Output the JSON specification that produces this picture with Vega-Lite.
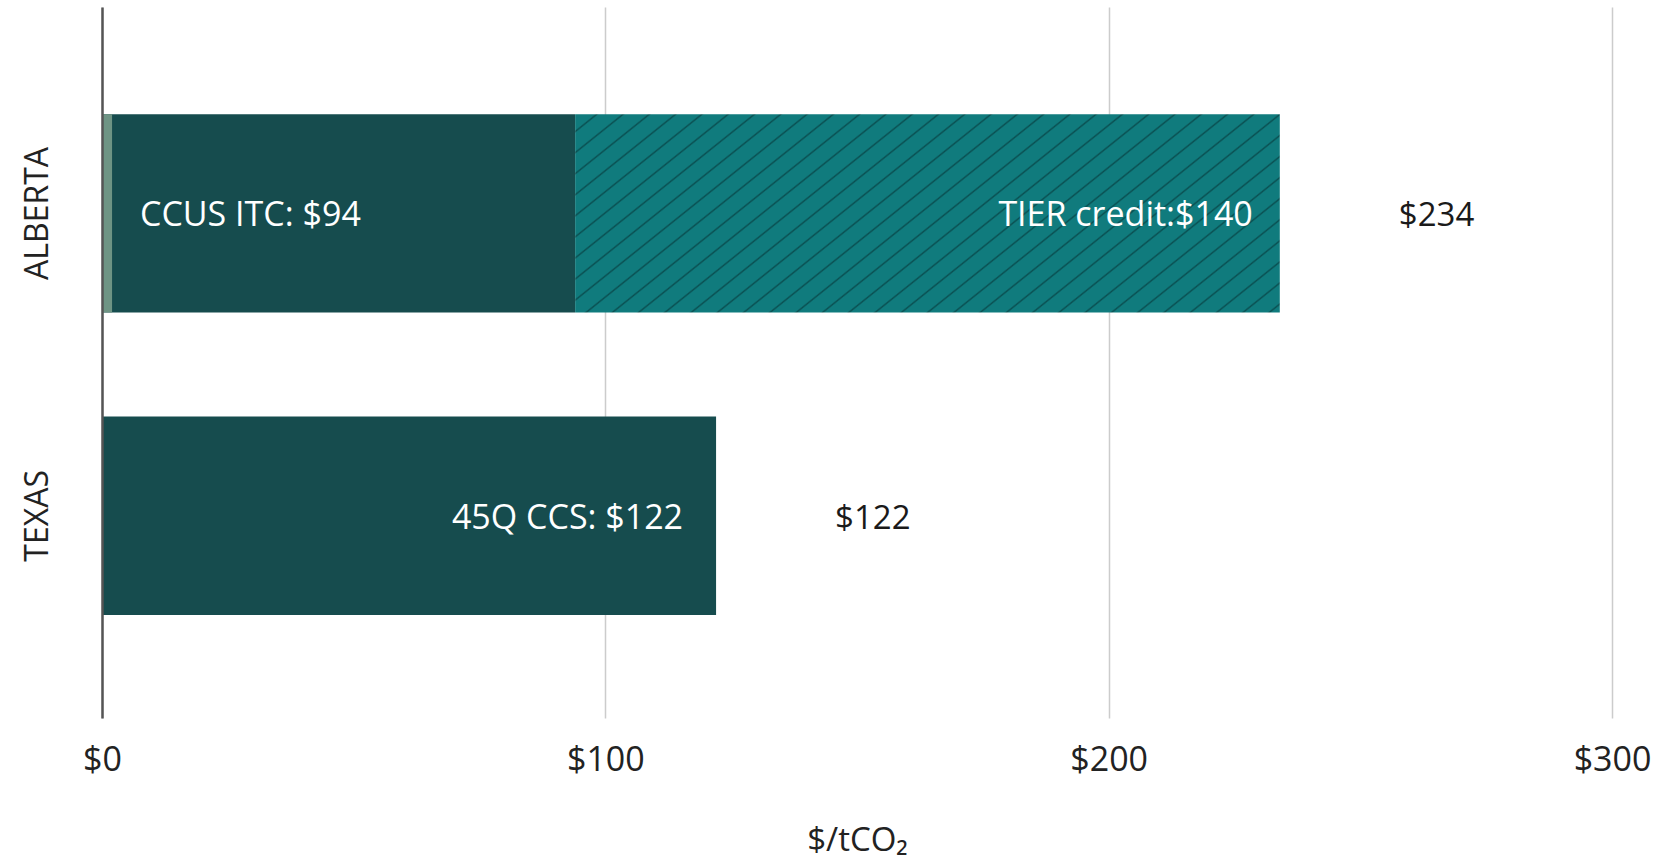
{
  "$schema": "https://vega.github.io/schema/vega-lite/v6.json",
  "width": 1510,
  "height": 711,
  "autosize": {"type": "none"},
  "padding": {"left": 102, "top": 7, "right": 43, "bottom": 144},
  "background": "white",
  "config": {"font": "Open Sans", "view": {"stroke": null}},
  "datasets": {
    "bars": [
      {"region": "ALBERTA", "segment": "CCUS ITC", "start": 0, "end": 94, "label": "CCUS ITC: $94"},
      {"region": "ALBERTA", "segment": "TIER credit", "start": 94, "end": 234, "label": "TIER credit:$140"},
      {"region": "ALBERTA", "segment": "Other", "start": 0, "end": 2, "label": ""},
      {"region": "TEXAS", "segment": "45Q CCS", "start": 0, "end": 122, "label": "45Q CCS: $122"}
    ],
    "totals": [
      {"region": "ALBERTA", "total": 234, "label": "$234"},
      {"region": "TEXAS", "total": 122, "label": "$122"}
    ]
  },
  "encoding": {
    "y": {
      "field": "region",
      "type": "nominal",
      "sort": ["ALBERTA", "TEXAS"],
      "scale": {"paddingInner": 0.344, "paddingOuter": 0.3476, "align": 0.51},
      "axis": {
        "title": null,
        "grid": false,
        "labelAngle": -90,
        "labelAlign": "center",
        "labelBaseline": "alphabetic",
        "labelPadding": 55,
        "ticks": false,
        "tickSize": 0,
        "domain": true,
        "domainColor": "#555555",
        "domainWidth": 2.5,
        "labelFontSize": 32,
        "labelColor": "#222222",
        "labelFont": "Open Sans",
        "zindex": 1
      }
    }
  },
  "layer": [
    {
      "data": {"name": "bars"},
      "transform": [{"filter": "datum.segment === 'CCUS ITC' || datum.segment === '45Q CCS'"}],
      "mark": {"type": "bar", "fill": "#164c4e"},
      "encoding": {
        "x": {
          "field": "start",
          "type": "quantitative",
          "scale": {"domain": [0, 300], "nice": false},
          "axis": {
            "title": "$/tCO₂",
            "values": [0, 100, 200, 300],
            "labelExpr": "'$' + datum.value",
            "labelFlush": false,
            "grid": true,
            "gridColor": "#cccccc",
            "gridWidth": 1.5,
            "domain": false,
            "ticks": false,
            "tickSize": 0,
            "labelPadding": 25,
            "labelFontSize": 34,
            "labelColor": "#222222",
            "labelFont": "Open Sans",
            "titleFont": "Open Sans",
            "titleFontSize": 33,
            "titleFontWeight": "normal",
            "titleColor": "#222222",
            "titlePadding": 47
          }
        },
        "x2": {"field": "end"}
      }
    },
    {
      "data": {"name": "bars"},
      "transform": [{"filter": "datum.segment === 'TIER credit'"}],
      "mark": {
        "type": "bar",
        "fill": {
          "gradient": "linear",
          "x1": 0, "y1": 0, "x2": 1.2028, "y2": 0.4223,
          "stops": [
            {"offset": 0.0204, "color": "#107b7d"}, {"offset": 0.0228, "color": "#0a4f51"}, {"offset": 0.0252, "color": "#107b7d"},
            {"offset": 0.0480, "color": "#107b7d"}, {"offset": 0.0504, "color": "#0a4f51"}, {"offset": 0.0528, "color": "#107b7d"},
            {"offset": 0.0756, "color": "#107b7d"}, {"offset": 0.0780, "color": "#0a4f51"}, {"offset": 0.0804, "color": "#107b7d"},
            {"offset": 0.1032, "color": "#107b7d"}, {"offset": 0.1056, "color": "#0a4f51"}, {"offset": 0.1080, "color": "#107b7d"},
            {"offset": 0.1308, "color": "#107b7d"}, {"offset": 0.1332, "color": "#0a4f51"}, {"offset": 0.1356, "color": "#107b7d"},
            {"offset": 0.1584, "color": "#107b7d"}, {"offset": 0.1608, "color": "#0a4f51"}, {"offset": 0.1632, "color": "#107b7d"},
            {"offset": 0.1860, "color": "#107b7d"}, {"offset": 0.1884, "color": "#0a4f51"}, {"offset": 0.1908, "color": "#107b7d"},
            {"offset": 0.2136, "color": "#107b7d"}, {"offset": 0.2160, "color": "#0a4f51"}, {"offset": 0.2184, "color": "#107b7d"},
            {"offset": 0.2412, "color": "#107b7d"}, {"offset": 0.2436, "color": "#0a4f51"}, {"offset": 0.2460, "color": "#107b7d"},
            {"offset": 0.2688, "color": "#107b7d"}, {"offset": 0.2712, "color": "#0a4f51"}, {"offset": 0.2736, "color": "#107b7d"},
            {"offset": 0.2964, "color": "#107b7d"}, {"offset": 0.2988, "color": "#0a4f51"}, {"offset": 0.3012, "color": "#107b7d"},
            {"offset": 0.3240, "color": "#107b7d"}, {"offset": 0.3264, "color": "#0a4f51"}, {"offset": 0.3288, "color": "#107b7d"},
            {"offset": 0.3516, "color": "#107b7d"}, {"offset": 0.3540, "color": "#0a4f51"}, {"offset": 0.3564, "color": "#107b7d"},
            {"offset": 0.3792, "color": "#107b7d"}, {"offset": 0.3816, "color": "#0a4f51"}, {"offset": 0.3840, "color": "#107b7d"},
            {"offset": 0.4068, "color": "#107b7d"}, {"offset": 0.4092, "color": "#0a4f51"}, {"offset": 0.4116, "color": "#107b7d"},
            {"offset": 0.4344, "color": "#107b7d"}, {"offset": 0.4368, "color": "#0a4f51"}, {"offset": 0.4392, "color": "#107b7d"},
            {"offset": 0.4620, "color": "#107b7d"}, {"offset": 0.4644, "color": "#0a4f51"}, {"offset": 0.4668, "color": "#107b7d"},
            {"offset": 0.4896, "color": "#107b7d"}, {"offset": 0.4920, "color": "#0a4f51"}, {"offset": 0.4944, "color": "#107b7d"},
            {"offset": 0.5172, "color": "#107b7d"}, {"offset": 0.5196, "color": "#0a4f51"}, {"offset": 0.5220, "color": "#107b7d"},
            {"offset": 0.5448, "color": "#107b7d"}, {"offset": 0.5472, "color": "#0a4f51"}, {"offset": 0.5496, "color": "#107b7d"},
            {"offset": 0.5724, "color": "#107b7d"}, {"offset": 0.5748, "color": "#0a4f51"}, {"offset": 0.5772, "color": "#107b7d"},
            {"offset": 0.6000, "color": "#107b7d"}, {"offset": 0.6024, "color": "#0a4f51"}, {"offset": 0.6048, "color": "#107b7d"},
            {"offset": 0.6276, "color": "#107b7d"}, {"offset": 0.6300, "color": "#0a4f51"}, {"offset": 0.6324, "color": "#107b7d"},
            {"offset": 0.6552, "color": "#107b7d"}, {"offset": 0.6576, "color": "#0a4f51"}, {"offset": 0.6600, "color": "#107b7d"},
            {"offset": 0.6828, "color": "#107b7d"}, {"offset": 0.6852, "color": "#0a4f51"}, {"offset": 0.6876, "color": "#107b7d"},
            {"offset": 0.7104, "color": "#107b7d"}, {"offset": 0.7128, "color": "#0a4f51"}, {"offset": 0.7152, "color": "#107b7d"},
            {"offset": 0.7380, "color": "#107b7d"}, {"offset": 0.7404, "color": "#0a4f51"}, {"offset": 0.7428, "color": "#107b7d"},
            {"offset": 0.7656, "color": "#107b7d"}, {"offset": 0.7680, "color": "#0a4f51"}, {"offset": 0.7704, "color": "#107b7d"},
            {"offset": 0.7932, "color": "#107b7d"}, {"offset": 0.7956, "color": "#0a4f51"}, {"offset": 0.7980, "color": "#107b7d"},
            {"offset": 0.8208, "color": "#107b7d"}, {"offset": 0.8232, "color": "#0a4f51"}, {"offset": 0.8256, "color": "#107b7d"},
            {"offset": 0.8484, "color": "#107b7d"}, {"offset": 0.8508, "color": "#0a4f51"}, {"offset": 0.8532, "color": "#107b7d"},
            {"offset": 0.8760, "color": "#107b7d"}, {"offset": 0.8784, "color": "#0a4f51"}, {"offset": 0.8808, "color": "#107b7d"},
            {"offset": 0.9036, "color": "#107b7d"}, {"offset": 0.9060, "color": "#0a4f51"}, {"offset": 0.9084, "color": "#107b7d"},
            {"offset": 0.9312, "color": "#107b7d"}, {"offset": 0.9336, "color": "#0a4f51"}, {"offset": 0.9360, "color": "#107b7d"},
            {"offset": 0.9588, "color": "#107b7d"}, {"offset": 0.9612, "color": "#0a4f51"}, {"offset": 0.9636, "color": "#107b7d"},
            {"offset": 0.9864, "color": "#107b7d"}, {"offset": 0.9888, "color": "#0a4f51"}, {"offset": 0.9912, "color": "#107b7d"}
          ]
        }
      },
      "encoding": {
        "x": {"field": "start", "type": "quantitative", "title": "$/tCO₂"},
        "x2": {"field": "end"}
      }
    },
    {
      "data": {"name": "bars"},
      "transform": [{"filter": "datum.segment === 'Other'"}],
      "mark": {"type": "bar", "fill": "#6e9484"},
      "encoding": {
        "x": {"field": "start", "type": "quantitative", "title": "$/tCO₂"},
        "x2": {"field": "end"}
      }
    },
    {
      "data": {"name": "bars"},
      "transform": [{"filter": "datum.segment === 'CCUS ITC'"}],
      "mark": {"type": "text", "align": "left", "baseline": "middle", "dx": 38, "dy": 3, "fontSize": 34, "font": "Open Sans", "color": "#ffffff"},
      "encoding": {
        "x": {"field": "start", "type": "quantitative", "title": "$/tCO₂"},
        "text": {"field": "label"}
      }
    },
    {
      "data": {"name": "bars"},
      "transform": [{"filter": "datum.segment === 'TIER credit'"}],
      "mark": {"type": "text", "align": "right", "baseline": "middle", "dx": -27, "dy": 3, "fontSize": 34, "font": "Open Sans", "color": "#ffffff"},
      "encoding": {
        "x": {"field": "end", "type": "quantitative", "title": "$/tCO₂"},
        "text": {"field": "label"}
      }
    },
    {
      "data": {"name": "bars"},
      "transform": [{"filter": "datum.segment === '45Q CCS'"}],
      "mark": {"type": "text", "align": "right", "baseline": "middle", "dx": -33, "dy": 3, "fontSize": 34, "font": "Open Sans", "color": "#ffffff"},
      "encoding": {
        "x": {"field": "end", "type": "quantitative", "title": "$/tCO₂"},
        "text": {"field": "label"}
      }
    },
    {
      "data": {"name": "totals"},
      "mark": {"type": "text", "align": "left", "baseline": "middle", "dx": 119, "dy": 3, "fontSize": 33, "font": "Open Sans", "color": "#1a1a1a"},
      "encoding": {
        "x": {"field": "total", "type": "quantitative", "title": "$/tCO₂"},
        "text": {"field": "label"}
      }
    }
  ]
}
